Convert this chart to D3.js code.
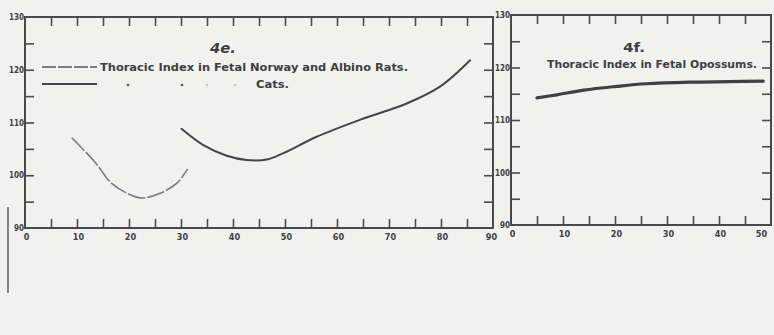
<!DOCTYPE html>
<html>
<head>
<meta charset="utf-8">
<script src="https://cdn.jsdelivr.net/npm/d3@7"></script>
<style>
  html, body { margin: 0; padding: 0; background: #f1f1f0; }
  svg { display: block; }
  text { fill: #3e3e3e; }
</style>
</head>
<body>
<svg id="chart" width="774" height="335"></svg>
<script>
// Thoracic index of fetal rats (Norway and albino) against body length
const ratsLength = [9.0, 13.1, 14.4, 16.3, 19.6, 22.4, 26.0, 29.2, 31.3];
const ratsIndex  = [107.1, 102.9, 101.3, 98.8, 96.6, 95.7, 96.6, 98.5, 101.2];

// Thoracic index of fetal cats
const catsLength = [30.1, 34.3, 38.8, 42.6, 46.5, 49.7, 56.1, 64.4, 73.4, 79.8, 85.6];
const catsIndex  = [108.8, 105.7, 103.7, 102.9, 103.0, 104.2, 107.3, 110.5, 113.6, 116.8, 121.8];

// Thoracic index of fetal opossums
const opossumLength = [5.0, 8.8, 14.0, 20.3, 26.0, 34.4, 42.0, 48.5];
const opossumIndex  = [114.2, 114.8, 115.7, 116.4, 116.9, 117.2, 117.3, 117.4];

// Axis ticks and labels
const indexTicks = [95, 100, 105, 110, 115, 120, 125];
const indexLabels = [90, 100, 110, 120, 130];
const lengthTicksA = [5, 10, 15, 20, 25, 30, 35, 40, 45, 50, 55, 60, 65, 70, 75, 80, 85];
const lengthLabelsA = [0, 10, 20, 30, 40, 50, 60, 70, 80, 90];
const lengthTicksB = [5, 10, 15, 20, 25, 30, 35, 40, 45];
const lengthLabelsB = [0, 10, 20, 30, 40, 50];

const svg = d3.select("#chart");
const ink = "#4a4a4a";

function panel(opts) {
  const x = d3.scaleLinear().domain(opts.xDomain).range(opts.xRange);
  const y = d3.scaleLinear().domain([90, 130]).range(opts.yRange);
  const g = svg.append("g");
  const [x0, x1] = opts.xRange, [y0, y1] = opts.yRange;

  // inward tick marks on all four sides
  const tickLen = 9;
  g.append("g").attr("transform", `translate(0,${y0})`)
    .call(d3.axisBottom(x).tickValues(opts.xTicks).tickSizeInner(-tickLen).tickSizeOuter(0).tickFormat(""));
  g.append("g").attr("transform", `translate(0,${y1})`)
    .call(d3.axisTop(x).tickValues(opts.xTicks).tickSizeInner(-tickLen).tickSizeOuter(0).tickFormat(""));
  g.append("g").attr("transform", `translate(${x0},0)`)
    .call(d3.axisLeft(y).tickValues(indexTicks).tickSizeInner(-tickLen).tickSizeOuter(0).tickFormat(""));
  g.append("g").attr("transform", `translate(${x1},0)`)
    .call(d3.axisRight(y).tickValues(indexTicks).tickSizeInner(-tickLen).tickSizeOuter(0).tickFormat(""));

  // labels
  const xl = g.append("g").attr("transform", `translate(0,${y0})`)
    .call(d3.axisBottom(x).tickValues(opts.xLabels).tickSize(0).tickPadding(6).tickFormat(d3.format("d")));
  xl.selectAll("text").style("font", "bold 9px 'DejaVu Sans Condensed', 'DejaVu Sans', sans-serif")
    .attr("dx", d => d === opts.xDomain[1] ? opts.lastDx : 1);
  const yl = g.append("g").attr("transform", `translate(${x0},0)`)
    .call(d3.axisLeft(y).tickValues(indexLabels).tickSize(0).tickPadding(1).tickFormat(d3.format("d")));
  yl.selectAll("text").style("font", "bold 8px 'DejaVu Sans Condensed', 'DejaVu Sans', sans-serif");

  g.selectAll(".domain").remove();
  g.selectAll(".tick line").attr("stroke", ink).attr("stroke-width", 1.6);

  g.append("rect")
    .attr("x", x0).attr("y", y1)
    .attr("width", x1 - x0).attr("height", y0 - y1)
    .attr("fill", "none").attr("stroke", ink).attr("stroke-width", 2);

  return { g, x, y };
}

const A = panel({ xDomain: [0, 90], xRange: [25, 493], yRange: [228, 17],
  xTicks: lengthTicksA, xLabels: lengthLabelsA, lastDx: -2 });
const B = panel({ xDomain: [0, 50], xRange: [511, 771], yRange: [225, 15],
  xTicks: lengthTicksB, xLabels: lengthLabelsB, lastDx: -10 });

function curve(p, xs, ys) {
  return d3.line().x(d => p.x(d[0])).y(d => p.y(d[1]))
    .curve(d3.curveCatmullRom.alpha(0.5))(d3.zip(xs, ys));
}

A.g.append("path").attr("d", curve(A, ratsLength, ratsIndex))
  .attr("fill", "none").attr("stroke", "#7a7a7a").attr("stroke-width", 1.6)
  .attr("stroke-dasharray", "18,2").attr("stroke-linecap", "butt");
A.g.append("path").attr("d", curve(A, catsLength, catsIndex))
  .attr("fill", "none").attr("stroke", "#454545").attr("stroke-width", 2).attr("stroke-linecap", "round");
B.g.append("path").attr("d", curve(B, opossumLength, opossumIndex))
  .attr("fill", "none").attr("stroke", "#404040").attr("stroke-width", 3.2).attr("stroke-linecap", "round");

// Figure captions and legend
const hand = "'DejaVu Sans Condensed', 'DejaVu Sans', sans-serif";
svg.append("text").attr("x", 210).attr("y", 53).text("4e.")
  .attr("textLength", 26).attr("lengthAdjust", "spacingAndGlyphs")
  .style("font", `italic bold 14px ${hand}`);
svg.append("text").attr("x", 623).attr("y", 52).text("4f.")
  .attr("textLength", 22).attr("lengthAdjust", "spacingAndGlyphs")
  .style("font", `bold 13px ${hand}`);

svg.append("line").attr("x1", 42).attr("x2", 97).attr("y1", 67).attr("y2", 67)
  .attr("stroke", "#5a5a5a").attr("stroke-width", 1.6).attr("stroke-dasharray", "14,2");
svg.append("text").attr("x", 100).attr("y", 71)
  .attr("textLength", 308).attr("lengthAdjust", "spacingAndGlyphs")
  .text("Thoracic Index in Fetal Norway and Albino Rats.")
  .style("font", `10.5px ${hand}`).style("font-weight", "600");

svg.append("line").attr("x1", 42).attr("x2", 97).attr("y1", 84).attr("y2", 84)
  .attr("stroke", "#454545").attr("stroke-width", 2);
[[128, 0.9], [182, 0.9], [207, 0.25], [235, 0.25]].forEach(([cx, o]) =>
  svg.append("circle").attr("cx", cx).attr("cy", 85).attr("r", 1.3)
    .attr("fill", "#444").attr("opacity", o));
svg.append("text").attr("x", 256).attr("y", 88)
  .attr("textLength", 33).attr("lengthAdjust", "spacingAndGlyphs")
  .text("Cats.").style("font", `10.5px ${hand}`).style("font-weight", "600");

svg.append("text").attr("x", 547).attr("y", 68)
  .attr("textLength", 210).attr("lengthAdjust", "spacingAndGlyphs")
  .text("Thoracic Index in Fetal Opossums.")
  .style("font", `10px ${hand}`).style("font-weight", "600");

// page rule at the left margin
svg.append("line").attr("x1", 8).attr("x2", 8).attr("y1", 207).attr("y2", 293)
  .attr("stroke", "#6a6a6a").attr("stroke-width", 1.6);
</script>
</body>
</html>
